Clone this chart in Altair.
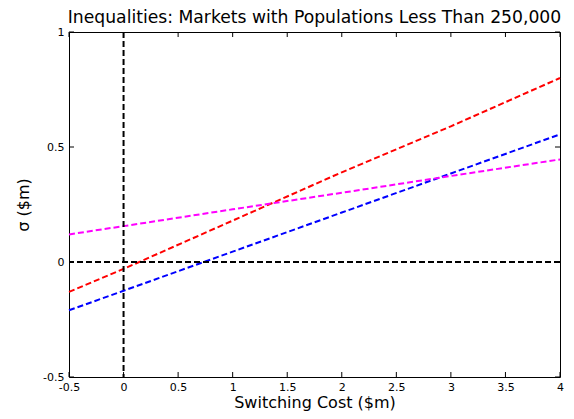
import altair as alt
import pandas as pd

# ---- data ----
x_vals = [-0.5, 0.0, 1.0, 2.0, 3.0, 4.0]
red_vals = [-0.13, -0.03, 0.18, 0.39, 0.59, 0.80]
blue_vals = [-0.21, -0.125, 0.045, 0.215, 0.385, 0.555]
magenta_vals = [0.12, 0.156, 0.229, 0.301, 0.374, 0.446]

series_names = ["red", "blue", "magenta"]
series_colors = ["#ff0000", "#0000ff", "#ff00ff"]

x_ticks = [-0.5, 0, 0.5, 1, 1.5, 2, 2.5, 3, 3.5, 4]
y_ticks = [-0.5, 0, 0.5, 1]

title_text = "Inequalities: Markets with Populations Less Than 250,000"
x_title = "Switching Cost ($m)"
y_title = "σ ($m)"

W, H = 491, 345
FONT = "DejaVu Sans"

rows = []
for name, vals in zip(series_names, [red_vals, blue_vals, magenta_vals]):
    for xv, yv in zip(x_vals, vals):
        rows.append({"series": name, "x": xv, "y": yv})
df = pd.DataFrame(rows)
df_xt = pd.DataFrame({"v": x_ticks})
df_yt = pd.DataFrame({"v": y_ticks})

xscale = alt.Scale(domain=[-0.5, 4], nice=False, zero=False)
yscale = alt.Scale(domain=[-0.5, 1], nice=False, zero=False)

xaxis = alt.Axis(values=x_ticks, title=x_title, labelExpr="datum.value + ''",
                 labelFlush=False, labelOverlap=False, labelPadding=4,
                 grid=False, ticks=False, domain=False,
                 titleY=30, titleBaseline="alphabetic")
yaxis = alt.Axis(values=y_ticks, title=y_title, labelExpr="datum.value + ''",
                 labelFlush=False, labelOverlap=False, labelPadding=5,
                 grid=False, ticks=False, domain=False,
                 titleX=-46, titleY=H / 2, titleAngle=-90,
                 titleBaseline="middle", titleAlign="center")

X = lambda f: alt.X(f, scale=xscale, axis=xaxis)
Y = lambda f: alt.Y(f, scale=yscale, axis=yaxis)

lines = alt.Chart(df).mark_line(strokeWidth=2, strokeDash=[6, 3]).encode(
    x=X("x:Q"),
    y=Y("y:Q"),
    color=alt.Color("series:N", scale=alt.Scale(domain=series_names, range=series_colors), legend=None),
)

hline = alt.Chart(pd.DataFrame({"v": [0]})).mark_rule(
    color="black", strokeWidth=2, strokeDash=[6, 3]).encode(y=Y("v:Q"))
vline = alt.Chart(pd.DataFrame({"v": [0]})).mark_rule(
    color="black", strokeWidth=2, strokeDash=[6, 3]).encode(x=X("v:Q"))

tick_len = 5
xt_bottom = alt.Chart(df_xt).mark_rule(color="black", strokeWidth=1).encode(
    x=X("v:Q"), y=alt.value(H), y2=alt.value(H - tick_len))
xt_top = alt.Chart(df_xt).mark_rule(color="black", strokeWidth=1).encode(
    x=X("v:Q"), y=alt.value(0), y2=alt.value(tick_len))
yt_left = alt.Chart(df_yt).mark_rule(color="black", strokeWidth=1).encode(
    y=Y("v:Q"), x=alt.value(0), x2=alt.value(tick_len))
yt_right = alt.Chart(df_yt).mark_rule(color="black", strokeWidth=1).encode(
    y=Y("v:Q"), x=alt.value(W), x2=alt.value(W - tick_len))

chart = alt.layer(lines, vline, hline, xt_bottom, xt_top, yt_left, yt_right).properties(
    width=W, height=H,
    background="white",
    title=alt.TitleParams(title_text, font=FONT, fontSize=17.2, fontWeight="normal",
                          color="black", offset=0, anchor="middle"),
    autosize=alt.AutoSizeParams(type="none"),
    padding={"left": 61, "top": 24, "right": 6, "bottom": 34},
).configure_view(
    stroke="black", strokeWidth=1
).configure_axis(
    labelFont=FONT, labelFontSize=11, labelColor="black",
    titleFont=FONT, titleFontSize=16, titleFontWeight="normal", titleColor="black",
)

chart.save("out.html", embed_options={"renderer": "svg", "actions": False})
